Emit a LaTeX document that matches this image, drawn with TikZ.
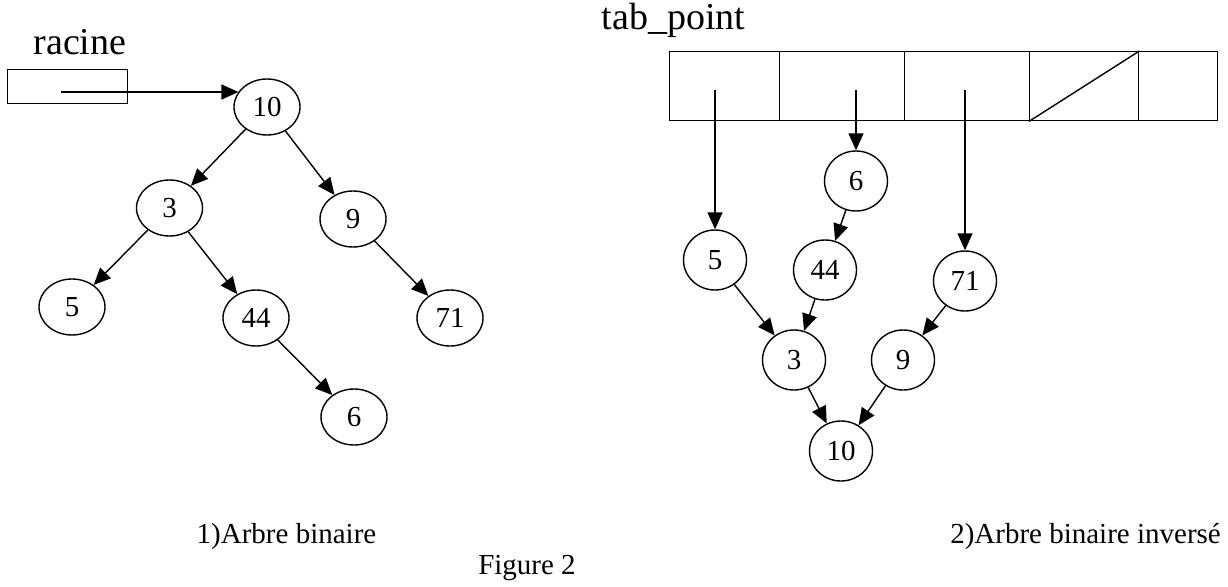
\documentclass[tikz,border=0pt]{standalone}
\usepackage{fontspec}
\setmainfont{Liberation Serif}
\usetikzlibrary{arrows.meta,shapes.geometric}
\begin{document}
\begin{tikzpicture}[x=1pt,y=-1pt,
  lnode/.style={draw, ellipse, line width=1.4pt, minimum width=66pt, minimum height=56pt, inner sep=0pt, font=\fontsize{29}{32}\selectfont},
  rnode/.style={draw, ellipse, line width=1.4pt, minimum width=63pt, minimum height=60pt, inner sep=0pt, font=\fontsize{29}{32}\selectfont},
  arr/.style={-{Triangle[length=17pt,width=15pt]}, line width=1.4pt},
  cell/.style={draw, line width=1.4pt, anchor=north west, inner sep=0pt, minimum height=69pt},
  title/.style={anchor=base, inner sep=0pt, font=\fontsize{38}{40}\selectfont},
  caption/.style={anchor=base, inner sep=0pt, font=\fontsize{29}{32}\selectfont}
]
\useasboundingbox (0,0) rectangle (1228,586);

% ---- left: binary tree
\node[title] (rlabel) at (80,55) {racine};
\node[draw, line width=1.4pt, anchor=north west, inner sep=0pt, minimum width=120pt, minimum height=34pt] (rbox) at (7,69) {};
\node[lnode] (L10) at (267,107) {10};
\node[lnode] (L3) at (169.5,208) {3};
\node[lnode] (L9) at (353,219) {9};
\node[lnode] (L5) at (72,307) {5};
\node[lnode] (L44) at (256,318) {44};
\node[lnode] (L71) at (450,318) {71};
\node[lnode] (L6) at (354,417) {6};
\coordinate (rstart) at (61,92);
\draw[arr] (rstart) -- (rstart -| L10.152);
\draw[arr] (L10) -- (L3);
\draw[arr] (L10) -- (L9);
\draw[arr] (L3) -- (L5);
\draw[arr] (L3) -- (L44);
\draw[arr] (L9) -- (L71);
\draw[arr] (L44) -- (L6);

% ---- right: inverted binary tree
\node[title] (tlabel) at (673.5,30) {tab\_point};
\node[cell, minimum width=110pt] (c1) at (669,51) {};
\node[cell, minimum width=125pt] (c2) at (779,51) {};
\node[cell, minimum width=125pt] (c3) at (904,51) {};
\node[cell, minimum width=109pt] (c4) at (1029,51) {};
\node[cell, minimum width=79pt] (c5) at (1138,51) {};
\draw[line width=1.4pt] (c4.south west) -- (c4.north east);

\node[rnode] (R6) at (856,181) {6};
\node[rnode] (R5) at (715,260) {5};
\node[rnode] (R44) at (825,270) {44};
\node[rnode] (R71) at (965,281) {71};
\node[rnode] (R3) at (794,360) {3};
\node[rnode] (R9) at (903,360) {9};
\node[rnode] (R10) at (841,451) {10};
\coordinate (p1) at (715,90);
\coordinate (p2) at (856,90);
\coordinate (p3) at (965,90);
\draw[arr] (p1) -- (R5);
\draw[arr] (p2) -- (R6);
\draw[arr] (p3) -- (R71);
\draw[arr] (R6) -- (R44);
\draw[arr] (R5) -- (R3);
\draw[arr] (R44) -- (R3);
\draw[arr] (R71) -- (R9);
\draw[arr] (R3) -- (R10);
\draw[arr] (R9) -- (R10);

% ---- captions
\node[caption] (cap1) at (286.5,543) {1)Arbre binaire};
\node[caption, anchor=base east] (cap2) at (1221,543) {2)Arbre binaire inversé};
\node[caption] (cap3) at (527,574) {Figure 2};
\end{tikzpicture}
\end{document}
